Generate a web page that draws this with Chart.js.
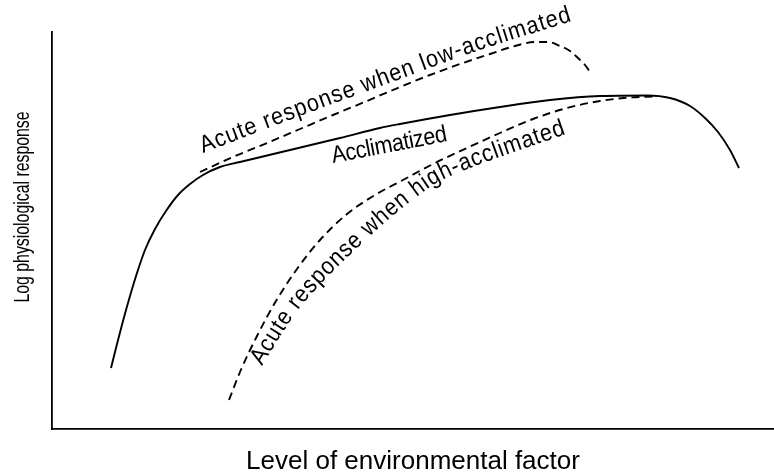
<!DOCTYPE html>
<html>
<head>
<meta charset="utf-8">
<script src="https://cdn.jsdelivr.net/npm/chart.js@4/dist/chart.umd.min.js"></script>
<style>
  html, body { margin: 0; padding: 0; background: #fff; }
  #wrap { width: 774px; height: 475px; }
</style>
</head>
<body>
<div id="wrap"><canvas id="c" width="774" height="475"></canvas></div>
<script>
// Level of environmental factor (arbitrary units) and log response for each curve
const acclimatizedX = [5.9, 6.5, 7.1, 7.8, 8.5, 9.3, 10.3, 11.4, 12.6, 13.8, 15.1, 16.8, 18.8, 23.8, 28.8, 32.8, 34.8, 39.8, 44.8, 49.8, 54.8, 59.5, 61.8, 63.8, 65.3, 66.6, 67.8, 68.7];
const acclimatizedY = [6.1, 8.5, 10.8, 13.3, 15.6, 17.9, 20.0, 21.8, 23.4, 24.5, 25.4, 26.2, 26.7, 27.9, 29.1, 30.1, 30.5, 31.4, 32.2, 32.9, 33.3, 33.35, 33.1, 32.3, 31.1, 29.7, 27.9, 26.1];

const lowAcclimatedX = [14.8, 18.1, 21.5, 24.8, 28.1, 31.5, 34.8, 37.8, 40.8, 43.8, 46.3, 48.3, 49.6, 50.8, 51.8, 52.6, 53.3, 53.8];
const lowAcclimatedY = [25.7, 27.2, 28.6, 30.0, 31.4, 32.8, 34.2, 35.4, 36.5, 37.5, 38.3, 38.7, 38.7, 38.3, 37.8, 37.1, 36.4, 35.7];

const highAcclimatedX = [17.7, 18.8, 20.5, 22.4, 24.5, 26.8, 29.5, 32.3, 35.1, 38.3, 41.5, 44.8, 48.1, 51.5, 54.8, 57.8, 60.1];
const highAcclimatedY = [2.9, 5.7, 9.3, 12.8, 16.0, 18.9, 21.5, 23.4, 24.9, 26.6, 28.1, 29.6, 31.0, 32.1, 32.8, 33.15, 33.25];

const xTitle = 'Level of environmental factor';
const yTitle = 'Log physiological response';

const toPoints = (xs, ys) => xs.map((x, i) => ({ x, y: ys[i] }));

const FAMILY = "'Liberation Sans', Arial, Helvetica, sans-serif";

// Upright text placed along a smooth baseline (data units), slightly condensed
function drawTextOnPath(ctx, text, guide, size, squeeze) {
  const pts = [];
  for (let i = 0; i < guide.length - 1; i++) {
    const p0 = guide[Math.max(i - 1, 0)], p1 = guide[i], p2 = guide[i + 1], p3 = guide[Math.min(i + 2, guide.length - 1)];
    for (let k = 0; k < 40; k++) {
      const t = k / 40, t2 = t * t, t3 = t2 * t;
      const f = (a, b, c, d) => 0.5 * ((2 * b) + (-a + c) * t + (2 * a - 5 * b + 4 * c - d) * t2 + (-a + 3 * b - 3 * c + d) * t3);
      pts.push([f(p0[0], p1[0], p2[0], p3[0]), f(p0[1], p1[1], p2[1], p3[1])]);
    }
  }
  pts.push(guide[guide.length - 1]);
  const cum = [0];
  for (let i = 1; i < pts.length; i++) {
    cum.push(cum[i - 1] + Math.hypot(pts[i][0] - pts[i - 1][0], pts[i][1] - pts[i - 1][1]));
  }
  const L = cum[cum.length - 1];
  const at = s => {
    let i = 1;
    while (i < cum.length - 1 && cum[i] < s) i++;
    const a = pts[i - 1], b = pts[i];
    const seg = cum[i] - cum[i - 1] || 1;
    const u = Math.min(Math.max((s - cum[i - 1]) / seg, 0), 1);
    return { x: a[0] + (b[0] - a[0]) * u, y: a[1] + (b[1] - a[1]) * u, ang: Math.atan2(b[1] - a[1], b[0] - a[0]) };
  };
  ctx.save();
  ctx.font = size + 'px ' + FAMILY;
  ctx.fillStyle = '#000';
  ctx.textAlign = 'center';
  ctx.textBaseline = 'alphabetic';
  const chars = Array.from(text);
  const widths = chars.map(ch => ctx.measureText(ch).width * squeeze);
  const W = widths.reduce((a, b) => a + b, 0);
  const extra = chars.length > 1 ? (L - W) / (chars.length - 1) : 0;
  let s = 0;
  chars.forEach((ch, i) => {
    const p = at(s + widths[i] / 2);
    ctx.save();
    ctx.translate(p.x, p.y);
    ctx.rotate(p.ang);
    ctx.scale(squeeze, 1);
    ctx.fillText(ch, 0, 0);
    ctx.restore();
    s += widths[i] + extra;
  });
  ctx.restore();
}

const curveLabels = {
  id: 'curveLabels',
  afterDraw(chart, args, opts) {
    const { ctx, scales } = chart;
    const xs = scales.x, ys = scales.y;
    opts.items.forEach(item => {
      const guide = item.path.map(([vx, vy]) => [xs.getPixelForValue(vx), ys.getPixelForValue(vy)]);
      drawTextOnPath(ctx, item.text, guide, item.size, item.squeeze);
    });
    // Vertical axis title in a condensed face
    const t = opts.yTitle;
    ctx.save();
    ctx.font = t.size + 'px ' + FAMILY;
    ctx.fillStyle = '#000';
    ctx.textAlign = 'center';
    ctx.textBaseline = 'alphabetic';
    ctx.translate(t.x, t.y);
    ctx.rotate(-Math.PI / 2);
    ctx.scale(t.squeeze, 1);
    ctx.fillText(t.text, 0, 0);
    ctx.restore();
  }
};

const lineStyle = {
  borderColor: '#000',
  borderWidth: 1.9,
  pointRadius: 0,
  fill: false,
  cubicInterpolationMode: 'monotone'
};

new Chart(document.getElementById('c'), {
  type: 'line',
  data: {
    datasets: [
      Object.assign({ label: 'Acclimatized', data: toPoints(acclimatizedX, acclimatizedY) }, lineStyle),
      Object.assign({ label: 'Acute response when low-acclimated', data: toPoints(lowAcclimatedX, lowAcclimatedY), borderDash: [8, 5] }, lineStyle),
      Object.assign({ label: 'Acute response when high-acclimated', data: toPoints(highAcclimatedX, highAcclimatedY), borderDash: [8, 5] }, lineStyle)
    ]
  },
  options: {
    responsive: false,
    devicePixelRatio: 1,
    animation: false,
    layout: { padding: { top: 32, right: 0, bottom: 0, left: 52 } },
    scales: {
      x: {
        type: 'linear', min: 0, max: 72.2,
        grid: { display: false, drawTicks: false },
        ticks: { display: false },
        border: { display: true, color: '#000', width: 1.8 },
        title: {
          display: true, text: xTitle, color: '#000',
          font: { family: FAMILY, size: 26, lineHeight: 1 },
          padding: { top: 20, bottom: 0 }
        }
      },
      y: {
        type: 'linear', min: 0, max: 39.7,
        grid: { display: false, drawTicks: false },
        ticks: { display: false },
        border: { display: true, color: '#000', width: 1.8 },
        title: { display: false }
      }
    },
    plugins: {
      legend: { display: false },
      tooltip: { enabled: false },
      curveLabels: {
        yTitle: { text: yTitle, x: 29, y: 207, size: 22, squeeze: 0.72 },
        items: [
          { text: 'Acute response when low-acclimated', size: 24, squeeze: 0.9,
            path: [[15.1, 27.6], [24.8, 31.3], [34.8, 35.0], [42.8, 37.9], [52.0, 40.8]] },
          { text: 'Acclimatized', size: 24, squeeze: 0.9,
            path: [[28.1, 26.6], [33.9, 27.7], [39.6, 28.8]] },
          { text: 'Acute response when high-acclimated', size: 24, squeeze: 0.9,
            path: [[21.0, 6.3], [25.0, 12.4], [30.6, 18.2], [36.3, 23.1], [40.8, 25.7], [51.4, 29.5]] }
        ]
      }
    }
  },
  plugins: [curveLabels]
});
</script>
</body>
</html>
